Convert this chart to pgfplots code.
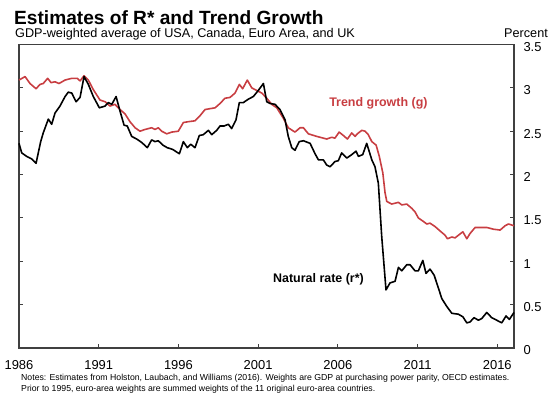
\documentclass[border=0pt]{standalone}
\usepackage{fontspec}
\setmainfont{Liberation Sans}
\usepackage{pgfplots}
\usepackage{pgfplotstable}
\pgfplotsset{compat=1.18}
\definecolor{trendred}{RGB}{200,62,66}

\pgfplotstableread{
year g
1986.00 3.09
1986.38 3.13
1986.69 3.05
1987.07 2.99
1987.32 3.04
1987.52 3.05
1987.80 3.11
1988.01 3.06
1988.26 3.07
1988.51 3.05
1988.89 3.09
1989.31 3.11
1989.66 3.11
1989.83 3.08
1990.08 3.14
1990.35 3.09
1990.66 2.98
1991.08 2.86
1991.40 2.84
1991.71 2.79
1992.02 2.81
1992.34 2.75
1992.65 2.70
1992.96 2.61
1993.28 2.54
1993.59 2.50
1993.90 2.52
1994.32 2.54
1994.53 2.52
1994.74 2.54
1994.95 2.50
1995.27 2.47
1995.58 2.49
1995.99 2.50
1996.31 2.60
1996.62 2.61
1997.04 2.62
1997.36 2.68
1997.67 2.75
1997.98 2.76
1998.30 2.77
1998.61 2.82
1998.92 2.88
1999.24 2.89
1999.55 2.94
1999.82 3.04
2000.03 2.99
2000.32 3.09
2000.60 3.00
2000.91 2.97
2001.23 2.94
2001.54 2.88
2001.85 2.81
2002.17 2.77
2002.58 2.65
2002.89 2.54
2003.31 2.49
2003.63 2.54
2003.84 2.54
2004.15 2.47
2004.68 2.44
2005.30 2.41
2005.62 2.43
2005.82 2.42
2006.08 2.49
2006.35 2.45
2006.60 2.41
2006.87 2.48
2007.08 2.44
2007.22 2.47
2007.50 2.51
2007.71 2.50
2007.91 2.46
2008.13 2.38
2008.40 2.34
2008.60 2.21
2008.82 2.02
2008.96 1.79
2009.07 1.69
2009.38 1.66
2009.80 1.68
2010.01 1.65
2010.32 1.66
2010.64 1.61
2010.84 1.57
2011.05 1.50
2011.36 1.46
2011.58 1.43
2011.78 1.44
2012.10 1.40
2012.41 1.35
2012.73 1.30
2012.87 1.26
2013.15 1.28
2013.35 1.27
2013.56 1.30
2013.84 1.34
2014.09 1.26
2014.29 1.32
2014.61 1.39
2015.34 1.39
2015.76 1.37
2016.18 1.36
2016.49 1.41
2016.70 1.43
2017.05 1.41
}\trendtable

\pgfplotstableread{
year r
1986.00 2.36
1986.17 2.25
1986.48 2.21
1986.80 2.18
1987.07 2.13
1987.36 2.38
1987.52 2.48
1987.84 2.64
1988.05 2.58
1988.26 2.71
1988.57 2.79
1988.89 2.90
1989.09 2.95
1989.31 2.94
1989.58 2.84
1989.83 2.89
1990.08 3.13
1990.35 3.04
1990.66 2.90
1991.04 2.77
1991.40 2.79
1991.60 2.83
1991.82 2.81
1992.09 2.90
1992.34 2.73
1992.59 2.57
1992.79 2.56
1993.07 2.44
1993.38 2.41
1993.70 2.37
1994.05 2.31
1994.32 2.40
1994.53 2.38
1994.74 2.39
1995.02 2.34
1995.30 2.31
1995.64 2.29
1996.06 2.24
1996.31 2.38
1996.56 2.31
1996.77 2.35
1997.04 2.31
1997.31 2.45
1997.56 2.46
1997.88 2.51
1998.09 2.46
1998.40 2.51
1998.61 2.56
1998.86 2.56
1999.13 2.58
1999.34 2.53
1999.61 2.63
1999.82 2.83
2000.07 2.83
2000.39 2.87
2000.70 2.90
2001.01 2.97
2001.33 3.05
2001.54 2.84
2001.75 2.82
2002.06 2.81
2002.37 2.75
2002.69 2.63
2002.89 2.44
2003.11 2.31
2003.31 2.28
2003.58 2.38
2003.84 2.39
2004.26 2.36
2004.57 2.24
2004.78 2.17
2005.09 2.17
2005.30 2.11
2005.51 2.09
2005.82 2.15
2006.03 2.16
2006.24 2.25
2006.56 2.19
2006.87 2.23
2007.14 2.27
2007.29 2.21
2007.56 2.23
2007.81 2.36
2008.13 2.17
2008.33 2.09
2008.54 1.90
2008.75 1.29
2009.02 0.67
2009.27 0.75
2009.59 0.77
2009.80 0.93
2010.01 0.89
2010.32 0.96
2010.53 0.96
2010.84 0.89
2011.05 0.89
2011.33 1.01
2011.53 0.86
2011.78 0.91
2012.04 0.84
2012.31 0.69
2012.52 0.57
2012.83 0.48
2013.15 0.40
2013.56 0.39
2013.84 0.36
2014.09 0.29
2014.29 0.30
2014.54 0.35
2014.82 0.32
2015.03 0.34
2015.34 0.41
2015.65 0.35
2015.97 0.32
2016.28 0.29
2016.55 0.37
2016.76 0.33
2017.05 0.41
}\ratetable

\begin{document}
\begin{tikzpicture}[x=1bp,y=1bp]
\useasboundingbox (0,0) rectangle (550,397);
\node[anchor=base west, inner sep=0pt, font=\fontsize{19.2}{19.2}\selectfont\bfseries] at (14,373) {Estimates of R* and Trend Growth};
\node[anchor=base west, inner sep=0pt, font=\fontsize{12.7}{12.7}\selectfont] at (15,360) {GDP-weighted average of USA, Canada, Euro Area, and UK};
\node[anchor=base east, inner sep=0pt, font=\fontsize{12.7}{12.7}\selectfont] at (548,360) {Percent};
\node[anchor=base west, inner sep=0pt, font=\fontsize{8.75}{8.75}\selectfont] at (21,17) {Notes: Estimates from Holston, Laubach, and Williams (2016). Weights are GDP at purchasing power parity, OECD estimates.};
\node[anchor=base west, inner sep=0pt, font=\fontsize{8.75}{8.75}\selectfont] at (21,6) {Prior to 1995, euro-area weights are summed weights of the 11 original euro-area countries.};
\begin{axis}[
  at={(19bp,49bp)}, anchor=south west,
  scale only axis, width=495bp, height=303.5bp,
  xmin=1986, xmax=2017.05, ymin=0, ymax=3.5,
  xtick={1986,1991,1996,2001,2006,2011,2016},
  ytick={0,0.5,1,1.5,2,2.5,3,3.5},
  xtick pos=lower, ytick pos=both, yticklabel pos=right,
  tick align=inside, major tick length=4bp,
  tick style={line width=0.9pt, color=black!75},
  axis line style={line width=1.1pt, color=black!75},
  /pgf/number format/assume math mode=true,
  /pgf/number format/set thousands separator={},
  xticklabel style={font=\fontsize{13}{13}\selectfont, yshift=-9bp},
  yticklabel style={font=\fontsize{13}{13}\selectfont, anchor=west, xshift=6bp, yshift=-2.5bp},
  clip=false,
]
\addplot[trendred, line width=1.6pt, line join=round] table[x=year, y=g] {\trendtable};
\addplot[black, line width=1.6pt, line join=round] table[x=year, y=r] {\ratetable};
\node[anchor=west, inner sep=0pt, text=trendred, font=\fontsize{12.5}{12.5}\selectfont\bfseries] at (axis cs:2005.45,2.82) {Trend growth (g)};
\node[anchor=west, inner sep=0pt, font=\fontsize{12.5}{12.5}\selectfont\bfseries] at (axis cs:2001.93,0.79) {Natural rate (r*)};
\end{axis}
\end{tikzpicture}
\end{document}
